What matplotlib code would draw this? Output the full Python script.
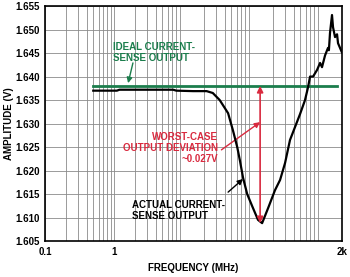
import matplotlib
matplotlib.use('Agg')
import matplotlib.pyplot as plt

plt.rcParams['font.family'] = ['Liberation Sans', 'DejaVu Sans']
plt.rcParams['font.weight'] = 'bold'

actualFreq = [0.5, 1.1, 1.2, 3.0, 7.2, 8.0, 14, 22, 27, 34, 45, 53, 61, 67, 74,
              85, 100, 122, 140, 171, 215, 255, 301, 355, 496, 586, 650, 693,
              766, 875, 968, 1033, 1143, 1262, 1300, 1349, 1442, 1492, 1595,
              1706, 1763, 2000]
actualVolts = [1.6370, 1.6370, 1.6372, 1.6372, 1.6372, 1.6370, 1.6369, 1.6369,
               1.6365, 1.6350, 1.6322, 1.6285, 1.6250, 1.6220, 1.6185, 1.6150,
               1.6125, 1.6095, 1.6088, 1.6120, 1.6158, 1.6180, 1.6216, 1.6265,
               1.6320, 1.6350, 1.6378, 1.6400, 1.6400, 1.6414, 1.6429, 1.6420,
               1.6445, 1.6461, 1.6456, 1.6493, 1.6531, 1.6505, 1.6484, 1.6490,
               1.6471, 1.6452]

idealFreq = [0.5, 1700]
idealVolts = [1.638, 1.638]

yTicks = [1.605, 1.610, 1.615, 1.620, 1.625, 1.630, 1.635, 1.640, 1.645, 1.650, 1.655]
xTicks = [0.1, 1, 2000]
xTickLabels = ['0.1', '1', '2k']

deviationFreq = 131
deviationTop = 1.638
deviationBottom = 1.6088

GREEN = '#1b7d4c'
RED = '#d92a3f'

fig = plt.figure(figsize=(3.5, 2.77), dpi=100)
ax = fig.add_axes([0.1286, 0.130, 0.848, 0.848])

ax.plot(idealFreq, idealVolts, color=GREEN, linewidth=2.0, zorder=3)
ax.plot(actualFreq, actualVolts, color='black', linewidth=1.6, zorder=4)

ax.set_xscale('log')
ax.set_xlim(0.1, 2000)
ax.set_ylim(1.605, 1.655)
ax.set_xticks(xTicks)
ax.set_xticklabels(xTickLabels)
ax.set_yticks(yTicks)
ax.set_yticklabels(['%.3f' % t for t in yTicks])
ax.tick_params(axis='both', which='both', length=0, labelsize=7, pad=4)
ax.xaxis.set_minor_formatter(matplotlib.ticker.NullFormatter())
ax.grid(True, which='both', color='#8a8a8a', linewidth=0.6)
ax.set_axisbelow(True)
for spine in ax.spines.values():
    spine.set_linewidth(1.2)

ax.set_ylabel('AMPLITUDE (V)', fontsize=7, fontweight='bold')
ax.yaxis.set_label_coords(-0.103, 0.5)
ax.set_xlabel('FREQUENCY (MHz)', fontsize=7, fontweight='bold', labelpad=5)

# deviation arrow
ax.annotate('', xy=(deviationFreq, deviationTop), xytext=(deviationFreq, deviationBottom),
            arrowprops=dict(arrowstyle='<|-|>', color=RED, lw=1.2,
                            mutation_scale=9, shrinkA=0, shrinkB=0), zorder=5)

ax.text(0.97, 1.6474, 'IDEAL CURRENT-\nSENSE OUTPUT', color=GREEN, fontsize=7,
        fontweight='bold', va='top', ha='left', linespacing=1.15)
ax.annotate('', xy=(1.6, 1.6386), xytext=(1.88, 1.6429),
            arrowprops=dict(arrowstyle='-|>', color=GREEN, lw=1.0, mutation_scale=8,
                            shrinkA=0, shrinkB=0))

ax.text(32, 1.6282, 'WORST-CASE\nOUTPUT DEVIATION\n~0.027V', color=RED, fontsize=7,
        fontweight='bold', va='top', ha='right', multialignment='right', linespacing=1.15)
ax.annotate('', xy=(deviationFreq, 1.6303), xytext=(36, 1.6244),
            arrowprops=dict(arrowstyle='-|>', color=RED, lw=1.0, mutation_scale=8,
                            shrinkA=0, shrinkB=0))

ax.text(1.82, 1.6138, 'ACTUAL CURRENT-\nSENSE OUTPUT', color='black', fontsize=7,
        fontweight='bold', va='top', ha='left', linespacing=1.15)
ax.annotate('', xy=(74, 1.6182), xytext=(45, 1.6154),
            arrowprops=dict(arrowstyle='-|>', color='black', lw=1.0, mutation_scale=8,
                            shrinkA=0, shrinkB=0))

fig.savefig('out.png', dpi=100)
